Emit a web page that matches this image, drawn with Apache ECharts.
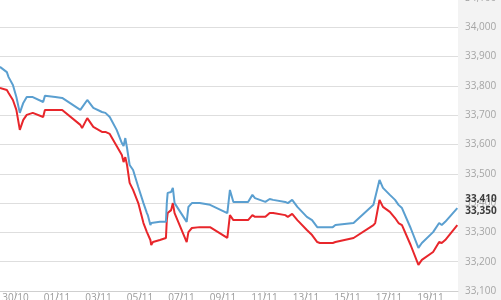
<!DOCTYPE html>
<html>
<head>
<meta charset="utf-8">
<script src="https://cdn.jsdelivr.net/npm/echarts@6/dist/echarts.min.js"></script>
<style>html,body{margin:0;padding:0;background:#fff}#chart{width:501px;height:300px}</style>
</head>
<body>
<div id="chart"></div>
<script>
// Time stamps (month-day hour, UTC) of the plotted points
var times = [
  '10-29 06:00','10-29 14:00','10-29 16:00','10-29 21:00','10-30 01:00','10-30 05:00','10-30 09:00','10-30 13:00',
  '10-30 20:00','10-31 08:00','10-31 10:00','10-31 22:00','11-01 06:00','11-02 03:00','11-02 05:00','11-02 11:00',
  '11-02 18:00','11-03 04:00','11-03 08:00','11-03 13:00','11-03 21:00','11-04 03:00','11-04 05:00','11-04 07:00',
  '11-04 09:00','11-04 12:00','11-04 16:00','11-04 22:00','11-05 04:00','11-05 08:00','11-05 09:00','11-05 12:00',
  '11-05 13:00','11-05 15:00','11-05 23:00','11-06 06:00','11-06 07:00','11-06 08:00','11-06 12:00','11-06 14:00',
  '11-06 16:00','11-07 06:00','11-07 08:00','11-07 12:00','11-07 21:00','11-08 09:00','11-09 05:00','11-09 08:00',
  '11-09 12:00','11-10 05:00','11-10 10:00','11-10 13:00','11-11 01:00','11-11 06:00','11-11 10:00','11-12 00:00',
  '11-12 03:00','11-12 08:00','11-12 14:00','11-13 01:00','11-13 07:00','11-13 13:00','11-13 16:00','11-14 07:00',
  '11-14 10:00','11-15 07:00','11-16 06:00','11-16 08:00','11-16 13:00','11-16 17:00','11-17 01:00','11-17 07:00',
  '11-17 11:00','11-17 13:00','11-17 15:00','11-18 01:00','11-18 10:00','11-18 14:00','11-19 03:00','11-19 10:00',
  '11-19 13:00','11-19 17:00','11-20 07:00'
];
// Upper (blue) line
var bluePrices = [
  33865,33847,33830,33803,33762,33708,33742,33762,
  33762,33745,33766,33762,33759,33718,33714,33752,
  33725,33711,33708,33694,33650,33605,33595,33622,
  33588,33530,33513,33455,33400,33366,33359,33325,
  33332,33336,33336,33336,33400,33435,33438,33452,
  33400,33336,33387,33400,33400,33394,33366,33445,
  33404,33404,33428,33417,33404,33414,33411,33404,
  33400,33411,33387,33353,33342,33318,33318,33318,
  33325,33332,33394,33400,33479,33452,33428,33411,
  33394,33400,33383,33315,33247,33264,33301,33332,
  33325,33336,33383
];
// Lower (red) line
var redPrices = [
  33793,33786,33776,33752,33718,33650,33684,33701,
  33708,33694,33718,33718,33718,33667,33656,33690,
  33660,33643,33643,33636,33595,33564,33540,33557,
  33530,33469,33445,33400,33332,33301,33298,33274,
  33257,33267,33274,33281,33342,33366,33376,33400,
  33366,33267,33301,33315,33318,33318,33281,33359,
  33342,33342,33359,33353,33353,33366,33366,33359,
  33353,33363,33342,33308,33291,33267,33264,33264,
  33267,33281,33325,33332,33411,33387,33370,33349,
  33332,33336,33325,33257,33189,33206,33233,33267,
  33264,33274,33325
];
// Last-price tags shown on the price axis
var lastPriceTags = ['33,410', '33,350'];
// Date tick labels (every 2 days from 28/10)
var xTickLabels = ['28/10','30/10','01/11','03/11','05/11','07/11','09/11','11/11','13/11','15/11','17/11','19/11'];
var yTickMin = 33100, yTickMax = 34100, yTickStep = 100;

var YEAR = 2017;
var base = Date.UTC(YEAR, 9, 28, 0, 0);
function toHours(s) {
  var p = s.split(' '), md = p[0].split('-'), hm = p[1].split(':');
  return (Date.UTC(YEAR, +md[0] - 1, +md[1], +hm[0], +hm[1]) - base) / 3600000;
}
var xs = times.map(toHours);
var blueData = xs.map(function (x, i) { return [x, bluePrices[i]]; });
var redData = xs.map(function (x, i) { return [x, redPrices[i]]; });

var chart = echarts.init(document.getElementById('chart'), null, { renderer: 'canvas' });
var labelFont = 'Open Sans';
chart.setOption({
  animation: false,
  backgroundColor: '#fff',
  graphic: [{
    type: 'rect', right: 0, top: 0, z: -100,
    shape: { width: 43, height: 300 },
    style: { fill: '#f3f3f3' }
  }],
  grid: { left: -26, right: 43, top: -2, bottom: 9, containLabel: false, outerBoundsMode: 'none' },
  xAxis: {
    type: 'value', min: 0, max: 559.8, interval: 48,
    axisLine: { show: true, lineStyle: { color: '#cfcfcf', width: 1 } },
    axisTick: { show: true, length: 7, lineStyle: { color: '#cfcfcf' } },
    splitLine: { show: false },
    axisLabel: {
      color: '#9a9a9a', fontSize: 10, fontFamily: labelFont, margin: 2, showMaxLabel: false,
      formatter: function (v) { var i = Math.round(v / 48); return xTickLabels[i] || ''; }
    }
  },
  yAxis: {
    type: 'value', position: 'right', min: yTickMin, max: yTickMax, interval: yTickStep,
    axisLine: { show: true, lineStyle: { color: '#d6d6d6' } },
    axisTick: { show: false },
    splitLine: { show: true, lineStyle: { color: '#dedede', width: 1 } },
    axisLabel: {
      color: '#a5a5a5', fontSize: 10, fontFamily: labelFont, margin: 7,
      formatter: function (v) { return v.toLocaleString('en-US'); }
    }
  },
  series: [{
    type: 'line', data: blueData, showSymbol: false, symbol: 'none',
    lineStyle: { color: '#5a9fd0', width: 2 }, itemStyle: { color: '#5a9fd0' },
    endLabel: {
      show: true, formatter: function () { return lastPriceTags[0]; },
      color: '#3c3c3c', fontWeight: 'bold', fontSize: 10, fontFamily: labelFont,
      distance: 8, offset: [0, -9]
    },
    z: 3
  }, {
    type: 'line', data: redData, showSymbol: false, symbol: 'none',
    lineStyle: { color: '#e8262b', width: 2 }, itemStyle: { color: '#e8262b' },
    endLabel: {
      show: true, formatter: function () { return lastPriceTags[1]; },
      color: '#3c3c3c', fontWeight: 'bold', fontSize: 10, fontFamily: labelFont,
      distance: 8, offset: [0, -14]
    },
    z: 2
  }]
});
</script>
</body>
</html>
